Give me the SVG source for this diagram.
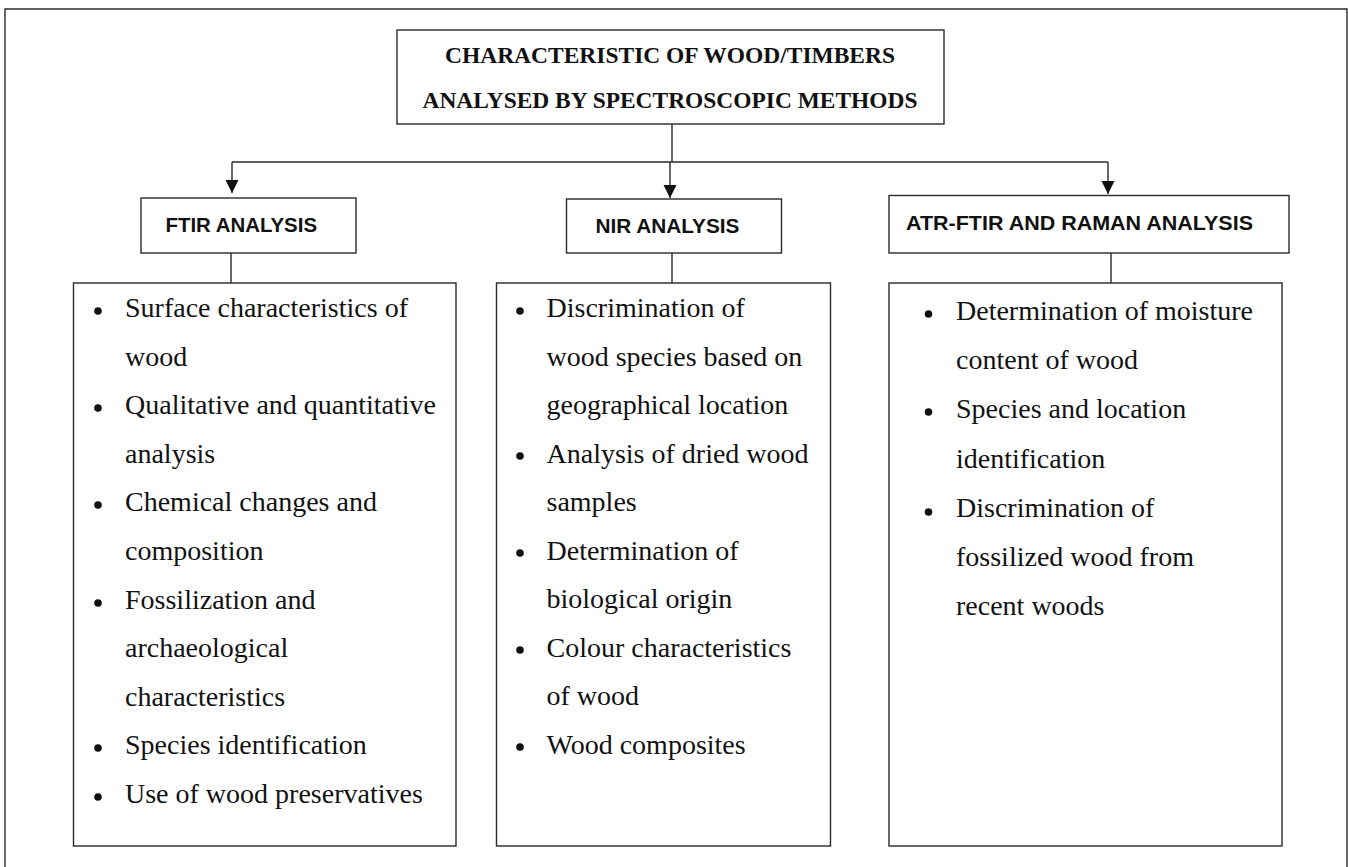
<svg xmlns="http://www.w3.org/2000/svg" width="1348" height="867" viewBox="0 0 1348 867">
<style>
.box{fill:#fff;stroke:#2a2a2a;stroke-width:1.4}
.ln{fill:none;stroke:#2a2a2a;stroke-width:1.4}
.title{font-family:"Liberation Serif","Times New Roman",serif;font-weight:bold;font-size:23.5px;fill:#111}
.head{font-family:"Liberation Sans",Arial,sans-serif;font-weight:bold;font-size:21px;fill:#111}
.item{font-family:"Liberation Serif","Times New Roman",serif;font-size:28px;fill:#111}
.dot{fill:#111}
</style>
<defs>
<marker id="arr" markerUnits="userSpaceOnUse" markerWidth="14" markerHeight="14" refX="13" refY="6.5" orient="auto">
<path d="M0,0 L13,6.5 L0,13 z" fill="#111"/>
</marker>
</defs>
<rect width="1348" height="867" fill="#fff"/>
<path class="ln" d="M5,867 L5,9 L1347,9 L1347,867"/>

<g id="connectors">
<line class="ln" x1="672" y1="124" x2="672" y2="162"/>
<line class="ln" x1="232" y1="162" x2="1108" y2="162"/>
<line class="ln" x1="232" y1="162" x2="232" y2="193" marker-end="url(#arr)"/>
<line class="ln" x1="670" y1="162" x2="670" y2="198" marker-end="url(#arr)"/>
<line class="ln" x1="1108" y1="162" x2="1108" y2="194" marker-end="url(#arr)"/>
<line class="ln" x1="231" y1="243" x2="231" y2="283"/>
<line class="ln" x1="672" y1="243" x2="672" y2="283"/>
<line class="ln" x1="1111" y1="243" x2="1111" y2="283"/>
</g>

<g id="title">
<rect class="box" x="397" y="30" width="547" height="94"/>
<text class="title" x="670" y="63" text-anchor="middle" textLength="450" lengthAdjust="spacingAndGlyphs">CHARACTERISTIC OF WOOD/TIMBERS</text>
<text class="title" x="670" y="108" text-anchor="middle" textLength="495" lengthAdjust="spacingAndGlyphs">ANALYSED BY SPECTROSCOPIC METHODS</text>
</g>

<g id="ftir-head">
<rect class="box" x="141" y="198" width="215" height="55"/>
<text class="head" x="165.5" y="232" textLength="151.5" lengthAdjust="spacingAndGlyphs">FTIR ANALYSIS</text>
</g>

<g id="nir-head">
<rect class="box" x="566.5" y="199" width="215" height="54"/>
<text class="head" x="595.5" y="233" textLength="144" lengthAdjust="spacingAndGlyphs">NIR ANALYSIS</text>
</g>

<g id="atr-head">
<rect class="box" x="889" y="195.5" width="400" height="57.5"/>
<text class="head" x="906" y="230" textLength="347" lengthAdjust="spacingAndGlyphs">ATR-FTIR AND RAMAN ANALYSIS</text>
</g>

<g id="ftir-list">
<rect class="box" x="73.5" y="283" width="382.5" height="563"/>
<circle class="dot" cx="98" cy="311" r="3.8"/>
<circle class="dot" cx="98" cy="408" r="3.8"/>
<circle class="dot" cx="98" cy="505" r="3.8"/>
<circle class="dot" cx="98" cy="603" r="3.8"/>
<circle class="dot" cx="98" cy="748" r="3.8"/>
<circle class="dot" cx="98" cy="797" r="3.8"/>
<text class="item" x="125" y="317">Surface characteristics of</text>
<text class="item" x="125" y="365.6">wood</text>
<text class="item" x="125" y="414.2">Qualitative and quantitative</text>
<text class="item" x="125" y="462.8">analysis</text>
<text class="item" x="125" y="511.4">Chemical changes and</text>
<text class="item" x="125" y="560">composition</text>
<text class="item" x="125" y="608.6">Fossilization and</text>
<text class="item" x="125" y="657.2">archaeological</text>
<text class="item" x="125" y="705.8">characteristics</text>
<text class="item" x="125" y="754.4">Species identification</text>
<text class="item" x="125" y="803">Use of wood preservatives</text>
</g>

<g id="nir-list">
<rect class="box" x="496.5" y="283" width="334" height="563"/>
<circle class="dot" cx="520" cy="311" r="3.8"/>
<circle class="dot" cx="520" cy="456" r="3.8"/>
<circle class="dot" cx="520" cy="553" r="3.8"/>
<circle class="dot" cx="520" cy="650" r="3.8"/>
<circle class="dot" cx="520" cy="747" r="3.8"/>
<text class="item" x="546.5" y="317">Discrimination of</text>
<text class="item" x="546.5" y="365.5">wood species based on</text>
<text class="item" x="546.5" y="414">geographical location</text>
<text class="item" x="546.5" y="462.5">Analysis of dried wood</text>
<text class="item" x="546.5" y="511">samples</text>
<text class="item" x="546.5" y="559.5">Determination of</text>
<text class="item" x="546.5" y="608">biological origin</text>
<text class="item" x="546.5" y="656.5">Colour characteristics</text>
<text class="item" x="546.5" y="705">of wood</text>
<text class="item" x="546.5" y="753.5">Wood composites</text>
</g>

<g id="atr-list">
<rect class="box" x="889" y="283" width="393" height="563"/>
<circle class="dot" cx="928.5" cy="314" r="3.8"/>
<circle class="dot" cx="928.5" cy="412" r="3.8"/>
<circle class="dot" cx="928.5" cy="512" r="3.8"/>
<text class="item" x="956" y="320">Determination of moisture</text>
<text class="item" x="956" y="369">content of wood</text>
<text class="item" x="956" y="418">Species and location</text>
<text class="item" x="956" y="467.5">identification</text>
<text class="item" x="956" y="517">Discrimination of</text>
<text class="item" x="956" y="566">fossilized wood from</text>
<text class="item" x="956" y="615">recent woods</text>
</g>
</svg>
